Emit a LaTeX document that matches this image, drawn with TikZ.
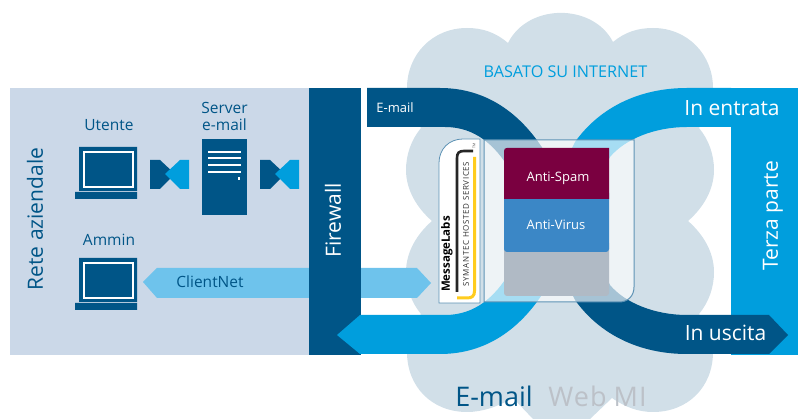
\documentclass[tikz,border=0pt]{standalone}
\usepackage{fontspec}
\setmainfont{Open Sans}
\definecolor{scuro}{HTML}{005587}
\definecolor{chiaro}{HTML}{009EDD}
\definecolor{pannello}{HTML}{CBD8E8}
\definecolor{nuvola}{HTML}{D1DFE8}
\definecolor{celeste}{HTML}{6EC3EC}
\definecolor{porpora}{HTML}{7A0040}
\definecolor{azzurro}{HTML}{3B87C6}
\definecolor{grigio}{HTML}{B0BAC5}
\definecolor{grigiotesto}{HTML}{BCC1C8}
\definecolor{bordo}{HTML}{5E93B5}
\definecolor{giallo}{HTML}{FFCC1E}
\tikzstyle{etichetta}=[inner sep=0pt, text=scuro, font=\fontsize{15.5}{17}\selectfont, align=center]
\tikzstyle{bianca}=[inner sep=0pt, text=white, font=\fontsize{21}{24}\selectfont]
\tikzstyle{piccola}=[inner sep=0pt, text=white, font=\fontsize{13}{15}\selectfont]
\newcommand{\etichetta}{\node[etichetta]}
\newcommand{\bianca}{\node[bianca]}
\newcommand{\piccola}{\node[piccola]}
\newcommand{\portatile}[1]{
\fill[scuro,shift={(0,#1)}] (79,147) rectangle (137,191) (75,192) rectangle (137,199);
\draw[white,line width=1.2pt,shift={(0,#1)}] (84,152) rectangle (133,187);
}
\newcommand{\scambio}[1]{
\fill[scuro,shift={(#1,0)}] (150,160) -- (160,160) -- (175,174) -- (160,189) -- (150,189) -- cycle;
\fill[chiaro,shift={(#1,0)}] (189,160) -- (180,160) -- (165,174) -- (180,189) -- (189,189) -- cycle;
}
\begin{document}
\begin{tikzpicture}[x=1pt,y=-1pt]
\useasboundingbox (0,0) rectangle (798,419);
% nuvola
\fill[nuvola] (508,43) .. controls (528,3) and (593,3) .. (613,42)
 .. controls (625,32) and (638,28) .. (653,28) .. controls (688,28) and (713,55) .. (713,88)
 .. controls (713,103) and (708,116) .. (699,128) .. controls (709,140) and (714,155) .. (714,170)
 .. controls (714,190) and (703,208) .. (688,221) .. controls (703,234) and (714,252) .. (714,272)
 .. controls (714,287) and (709,302) .. (699,314) .. controls (708,326) and (713,339) .. (713,352)
 .. controls (713,387) and (688,412) .. (653,412) .. controls (638,412) and (625,407) .. (612,398)
 -- (590,419) -- (533,419) -- (513,398)
 .. controls (497,407) and (482,412) .. (467,412) .. controls (432,412) and (407,387) .. (407,352)
 .. controls (407,339) and (412,326) .. (421,314) .. controls (411,302) and (406,287) .. (406,272)
 .. controls (406,252) and (417,234) .. (432,221) .. controls (417,208) and (406,190) .. (406,170)
 .. controls (406,155) and (411,140) .. (421,128) .. controls (412,116) and (407,103) .. (407,88)
 .. controls (407,55) and (432,28) .. (467,28) .. controls (482,28) and (495,32) .. (508,43) -- cycle;
% pannelli
\fill[pannello] (10,88) rectangle (309,355);
\fill[chiaro] (731,88) rectangle (798,355);
% freccia ClientNet
\fill[celeste] (143,282) -- (157,268) -- (417,268) -- (431,283) -- (417,298) -- (157,298) -- cycle;
\fill[scuro] (309,88) rectangle (361,355);
% bande
\fill[scuro] (367,88) -- (440,88) .. controls (485,88) and (520,112) .. (545,152) -- (610,285)
 .. controls (625,303) and (655,315) .. (687,315) -- (769,315) -- (788,335) -- (769,354) -- (687,354)
 .. controls (640,354) and (600,335) .. (575,300) -- (510,170)
 .. controls (495,145) and (475,127) .. (445,127) -- (367,127) -- cycle;
\fill[chiaro] (731,88) -- (687,88) .. controls (640,88) and (600,107) .. (575,142) -- (510,272)
 .. controls (495,297) and (475,315) .. (445,315) -- (360,315) -- (337,335) -- (360,354) -- (440,354)
 .. controls (485,354) and (520,330) .. (545,290) -- (610,157)
 .. controls (625,139) and (655,127) .. (687,127) -- (731,127) -- cycle;
% vetro e blocchi
\draw[bordo,fill=white,fill opacity=0.65,line width=1pt] (484,140) -- (634,140) -- (634,287)
 .. controls (634,296) and (628,302) .. (619,302) -- (484,302) -- cycle;
\fill[grigio,rounded corners=3pt] (504,240) rectangle (609,296);
\fill[azzurro,rounded corners=3pt] (504,190) rectangle (609,252);
\fill[porpora] (504,199) -- (504,151) .. controls (504,149) and (505,148) .. (507,148) -- (609,148) -- (609,199) -- cycle;
\draw[bordo,fill=white,line width=0.8pt] (439,303) -- (439,163) .. controls (439,149) and (449,139) .. (463,139)
 -- (480,139) -- (480,303) -- cycle;
\draw[black!85,line width=2.6pt] (457,292) -- (457,158) .. controls (457,153) and (459,151) .. (464,151) -- (473,151);
\draw[giallo,line width=3pt] (474.5,157) -- (474.5,291) .. controls (474.5,296) and (472,298) .. (467,298) -- (457,298);
% computer
\portatile{0}
\portatile{111}
\fill[scuro] (202,139) rectangle (247,215);
\draw[white,line width=1.2pt] (208,152) -- (241,152) (208,158) -- (241,158) (208,165) -- (241,165) (208,172) -- (241,172);
\fill[white] (238,177) rectangle (240,180);
\scambio{0}
\scambio{110}
% testi
\etichetta (rete) at (35,219) [rotate=90, font=\fontsize{21}{24}\selectfont] {Rete aziendale};
\etichetta (utente) at (109,125) {Utente};
\etichetta (server) at (224.5,116) {Server\\e-mail};
\etichetta (ammin) at (109,240) {Ammin};
\etichetta (clientnet) at (210,282) {ClientNet};
\bianca (firewall) at (333,220.5) [rotate=90] {Firewall};
\piccola (email) at (395,108) {E-mail};
\bianca (entrata) at (732,108) {In entrata};
\bianca (terza) at (773,216) [rotate=90] {Terza parte};
\bianca (uscita) at (725.5,333) {In uscita};
\etichetta (internet) at (565.5,72) [text=chiaro, font=\fontsize{16.2}{18}\selectfont] {BASATO SU INTERNET};
\piccola (spam) at (558,178) {Anti-Spam};
\piccola (virus) at (556,225) {Anti-Virus};
\node[inner sep=0pt, text=black, rotate=90, font=\bfseries\fontsize{11.5}{13}\selectfont] (labs) at (447,254) {MessageLabs};
\node[inner sep=0pt, text=black!80, rotate=90, font=\fontsize{8}{10}\selectfont\addfontfeatures{LetterSpace=8}] (symantec) at (466,224) {SYMANTEC HOSTED SERVICES};
\node[inner sep=0pt, text=black!70, rotate=90, font=\fontsize{3.5}{4}\selectfont] (tm) at (474,146) {TM};
\etichetta (mail) at (494,396) [font=\fontsize{27}{30}\selectfont] {E-mail};
\etichetta (web) at (597.5,396) [text=grigiotesto, font=\fontsize{27}{30}\selectfont\addfontfeatures{LetterSpace=4}] {Web\hspace{7pt}MI};
\end{tikzpicture}
\end{document}
